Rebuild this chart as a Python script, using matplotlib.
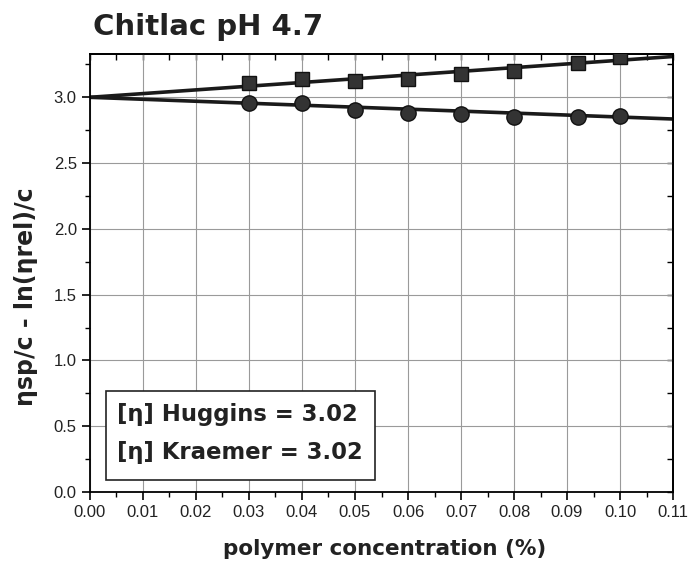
import matplotlib
matplotlib.use("Agg")
import matplotlib.pyplot as plt
from matplotlib.ticker import MultipleLocator, FormatStrFormatter
from matplotlib.patches import Rectangle

# Data
conc = [0.03, 0.04, 0.05, 0.06, 0.07, 0.08, 0.092, 0.10]
huggins = [3.11, 3.14, 3.125, 3.14, 3.18, 3.20, 3.26, 3.31]
kraemer = [2.96, 2.955, 2.905, 2.88, 2.875, 2.85, 2.85, 2.855]
fit_x = [0.0, 0.11]
huggins_fit = [3.00, 3.31]
kraemer_fit = [3.00, 2.835]
title = "Chitlac pH 4.7"
xlabel = "polymer concentration (%)"
ylabel = "ηsp/c - ln(ηrel)/c"
box_lines = ["[η] Huggins = 3.02", "[η] Kraemer = 3.02"]

fig = plt.figure(figsize=(6.9, 5.69), dpi=100)
ax = fig.add_axes([0.1304, 0.1353, 0.845, 0.770])

ax.grid(True, color="#9a9a9a", linewidth=0.8, zorder=0)
ax.plot(fit_x, huggins_fit, color="#1a1a1a", linewidth=2.6, zorder=2)
ax.plot(fit_x, kraemer_fit, color="#1a1a1a", linewidth=2.6, zorder=2)
ax.plot(conc, huggins, linestyle="none", marker="s", markersize=10,
        markerfacecolor="#333333", markeredgecolor="#111111", zorder=3)
ax.plot(conc, kraemer, linestyle="none", marker="o", markersize=11,
        markerfacecolor="#333333", markeredgecolor="#111111", zorder=3)

ax.set_xlim(0, 0.11)
ax.set_ylim(0, 3.33)
ax.xaxis.set_major_locator(MultipleLocator(0.01))
ax.xaxis.set_minor_locator(MultipleLocator(0.005))
ax.yaxis.set_major_locator(MultipleLocator(0.5))
ax.yaxis.set_minor_locator(MultipleLocator(0.25))
ax.xaxis.set_major_formatter(FormatStrFormatter("%.2f"))
ax.yaxis.set_major_formatter(FormatStrFormatter("%.1f"))

ax.tick_params(which="major", direction="out", length=6, width=1.2,
               labelsize=12, top=False, right=False, labelcolor="#222222")
ax.tick_params(which="minor", direction="out", length=3.5, width=1.0,
               top=False, right=False)
for lab in ax.get_xticklabels() + ax.get_yticklabels():
    lab.set_fontfamily("Liberation Sans")

# inward ticks on top/right
ax2 = ax.secondary_xaxis("top")
ax2.xaxis.set_major_locator(MultipleLocator(0.01))
ax2.xaxis.set_minor_locator(MultipleLocator(0.005))
ax2.tick_params(which="both", direction="in", length=4, width=1.0, labeltop=False)
ax3 = ax.secondary_yaxis("right")
ax3.yaxis.set_major_locator(MultipleLocator(0.5))
ax3.yaxis.set_minor_locator(MultipleLocator(0.25))
ax3.tick_params(which="both", direction="in", length=4, width=1.0, labelright=False)

for sp in ax.spines.values():
    sp.set_linewidth(1.3)
ax2.spines["top"].set_linewidth(1.3)
ax3.spines["right"].set_linewidth(1.3)

ax.set_xlabel(xlabel, fontsize=15.5, fontweight="bold", family="DejaVu Sans",
              color="#222222")
ax.xaxis.set_label_coords(0.505, -0.108)
ax.set_ylabel(ylabel, fontsize=17, fontweight="bold", family="DejaVu Sans",
              color="#222222")
ax.yaxis.set_label_coords(-0.09, 0.445)

fig.text(0.135, 0.953, title, fontsize=21, fontweight="bold",
         family="DejaVu Sans", color="#222222", va="center", ha="left")

ax.add_patch(Rectangle((0.0274, 0.0274), 0.4615, 0.2032, transform=ax.transAxes,
                       facecolor="white", edgecolor="#222222", linewidth=1.2,
                       zorder=5))
for yy, line in zip([0.176, 0.091], box_lines):
    ax.text(0.047, yy, line, transform=ax.transAxes, fontsize=16.4,
            fontweight="bold", family="DejaVu Sans", color="#222222",
            va="center", ha="left", zorder=6)

fig.savefig("out.png", dpi=100)
